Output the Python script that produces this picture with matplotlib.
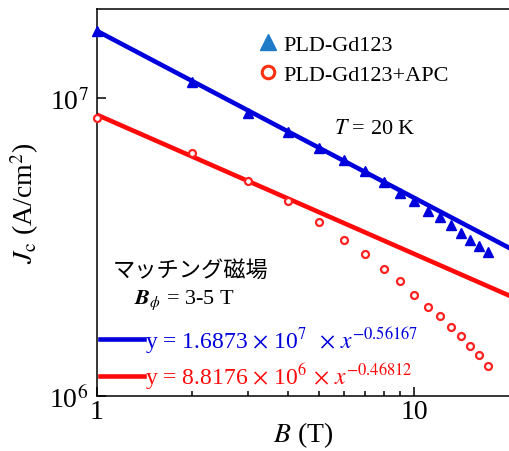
import numpy as np
import matplotlib
matplotlib.use('Agg')
import matplotlib.pyplot as plt
from matplotlib.lines import Line2D
from matplotlib.ticker import LogLocator, NullLocator, NullFormatter

plt.rcParams['font.family'] = ['Liberation Serif', 'Noto Sans CJK JP']
plt.rcParams['mathtext.fontset'] = 'stix'

#### data (B in T, Jc in A/cm2)
B = [1, 2, 3, 4, 5, 6, 7, 8, 9, 10, 11, 12, 13, 14, 15, 16, 17]
jc_gd123 = [1.68e7, 1.14e7, 8.97e6, 7.74e6, 6.83e6, 6.23e6, 5.71e6, 5.25e6, 4.81e6,
            4.52e6, 4.19e6, 3.99e6, 3.75e6, 3.52e6, 3.34e6, 3.19e6, 3.04e6]
jc_apc = [8.63e6, 6.58e6, 5.30e6, 4.51e6, 3.84e6, 3.35e6, 3.01e6, 2.67e6, 2.43e6,
          2.18e6, 1.99e6, 1.86e6, 1.71e6, 1.59e6, 1.47e6, 1.37e6, 1.26e6]

# power law fits y = a * x^b
fit_a = [1.6873e7, 8.8176e6]
fit_b = [-0.56167, -0.46812]
fit_labels = [r'y = 1.6873 $\times$ 10$^{7}$  $\times$ $x^{\mathrm{-0.56167}}$',
              r'y = 8.8176 $\times$ 10$^{6}$ $\times$ $x^{\mathrm{-0.46812}}$']

blue = '#0000dd'
red = '#ff0a0a'

fig = plt.figure(figsize=(5.1, 4.52), dpi=100)
ax = fig.add_axes([0.19, 0.1217, 0.81, 0.8563])

B_fit = np.linspace(1, 20, 200)
ax.plot(B_fit, fit_a[0] * B_fit**fit_b[0], color=blue, lw=3.3, zorder=2)
ax.plot(B_fit, fit_a[1] * B_fit**fit_b[1], color=red, lw=3.3, zorder=2)

ax.plot(B, jc_gd123, '^', color=blue, ms=7, mec=blue, zorder=3, clip_on=False)
ax.plot(B, jc_apc, 'o', color=red, mfc='white', mec='#ff2020', ms=5, mew=1.6,
        zorder=3, clip_on=False)

ax.set_xscale('log')
ax.set_yscale('log')
ax.set_xlim(1, 20)
ax.set_ylim(1e6, 2e7)

ax.set_xticks([1, 10])
ax.set_xticklabels(['1', '10'])
ax.xaxis.set_minor_locator(LogLocator(base=10, subs=np.arange(2, 10)))
ax.xaxis.set_minor_formatter(NullFormatter())
ax.set_yticks([1e6, 1e7])
ax.set_yticklabels([r'10$^{6}$', r'10$^{7}$'])
ax.yaxis.set_minor_locator(NullLocator())

ax.tick_params(which='both', direction='in', labelsize=20, width=1.1)
ax.tick_params(which='major', length=6.5)
ax.tick_params(axis='y', which='major', pad=6)
ax.tick_params(axis='x', which='major', pad=2)
ax.tick_params(which='minor', length=3.5)
for s in ['left', 'bottom', 'top']:
    ax.spines[s].set_linewidth(1.1)
ax.spines['right'].set_visible(False)

ax.set_xlabel(r'$B$ (T)', fontsize=20, labelpad=-3)
ax.set_ylabel(r'$J_{\rm c}$ (A/cm$^{2}$)', fontsize=20, labelpad=6)

# marker legend
h1 = [Line2D([], [], ls='none', marker='^', color='#1f7ac8', ms=11),
      Line2D([], [], ls='none', marker='o', mfc='white', mec='#ff3010', ms=9, mew=2.2)]
leg1 = ax.legend(h1, ['PLD-Gd123', 'PLD-Gd123+APC'], loc='upper left',
                 bbox_to_anchor=(0.37, 0.958), frameon=False, fontsize=16,
                 handlelength=0.8, handletextpad=0.3, labelspacing=0.45,
                 borderaxespad=0)
ax.add_artist(leg1)

# fit legend
h2 = [Line2D([], [], color=blue, lw=3.3), Line2D([], [], color=red, lw=3.3)]
leg2 = ax.legend(h2, fit_labels, loc='upper left', bbox_to_anchor=(-0.015, 0.21),
                 frameon=False, fontsize=17, handlelength=1.85, handletextpad=0.05,
                 labelspacing=0.25, borderaxespad=0)
for t, c in zip(leg2.get_texts(), [blue, red]):
    t.set_color(c)

ax.text(0.575, 0.68, r'$T$ = 20 K', transform=ax.transAxes, fontsize=16)
ax.text(0.038, 0.31, 'マッチング磁場', transform=ax.transAxes, fontsize=16,
        family=['Noto Sans CJK JP'])
ax.text(0.09, 0.24, r'$\mathbfit{B}_{\phi}$ = 3-5 T', transform=ax.transAxes, fontsize=16)

fig.savefig('out.png', dpi=100)
